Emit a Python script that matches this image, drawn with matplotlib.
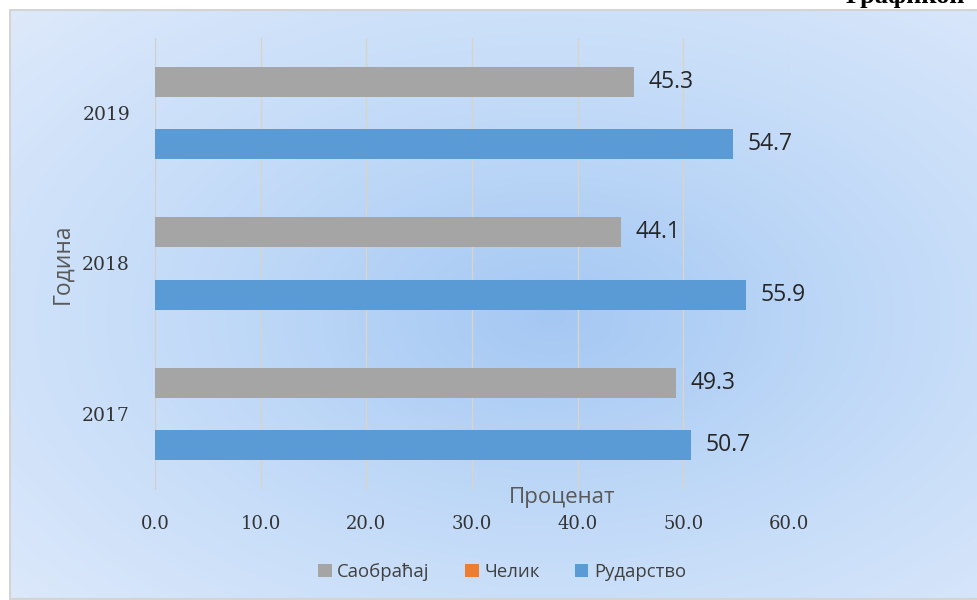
import matplotlib.pyplot as plt
import numpy as np
from matplotlib.patches import Rectangle
from matplotlib.colors import LinearSegmentedColormap

# data
years = ["2017", "2018", "2019"]
saobracaj = [49.3, 44.1, 45.3]
celik = [0.0, 0.0, 0.0]
rudarstvo = [50.7, 55.9, 54.7]
series_names = ["Саобраћај", "Челик", "Рударство"]
xticks = [0, 10, 20, 30, 40, 50, 60]

W, H = 978, 600
fig = plt.figure(figsize=(W / 100, H / 100), dpi=100)
fig.patch.set_facecolor("white")

# chart area background: radial gradient with grey border
bg = fig.add_axes([9 / W, 0, 1 - 9 / W, 1 - 9 / H])
bg.set_axis_off()
yy, xx = np.mgrid[0:1:300j, 0:1:500j]
r = np.sqrt(((xx - 0.56) / 0.75) ** 2 + ((yy - 0.52) / 0.75) ** 2)
r = np.clip(r, 0, 1)
cmap = LinearSegmentedColormap.from_list("bg", ["#a5c8f3", "#c3dbf8", "#dde9fb"])
bg.imshow(r, cmap=cmap, aspect="auto", extent=[0, 1, 0, 1], origin="upper")
bg.set_xlim(0, 1)
bg.set_ylim(0, 1)
bg.add_patch(Rectangle((0, 0), 1.2, 1, fill=False, edgecolor="#d4d4d4", lw=3,
                       transform=bg.transAxes, clip_on=True))

# title of the page, cut off at the top right as in the source
fig.text(846 / W, 1 - 3 / H, "Графикон", fontsize=19, fontweight="bold",
         family="Liberation Serif", ha="left", va="baseline", color="black")

ax = fig.add_axes([155 / W, 1 - 489 / H, (789 - 155) / W, (489 - 38) / H])
ax.patch.set_alpha(0)

y = np.arange(len(years))
off = 0.207
h = 0.2
colors = ["#a5a5a5", "#ed7d31", "#5b9bd5"]
b1 = ax.barh(y + off, saobracaj, height=h, color=colors[0], label=series_names[0], zorder=3)
b2 = ax.barh(y, celik, height=h, color=colors[1], label=series_names[1], zorder=3)
b3 = ax.barh(y - off, rudarstvo, height=h, color=colors[2], label=series_names[2], zorder=3)

for bars, vals in ((b1, saobracaj), (b3, rudarstvo)):
    for rect, v in zip(bars, vals):
        ax.text(v + 1.4, rect.get_y() + rect.get_height() / 2, f"{v:.1f}",
                va="center", ha="left", fontsize=16.5, family="Open Sans",
                color="#262626")

ax.set_xlim(0, 60)
ax.set_ylim(-0.5, 2.5)
ax.set_xticks(xticks)
ax.set_xticklabels([f"{t:.1f}" for t in xticks], family="DejaVu Serif",
                   fontsize=13, color="#333333")
ax.set_yticks(y)
ax.set_yticklabels(years, family="DejaVu Serif", fontsize=13.5, color="#333333")
ax.tick_params(axis="x", length=0, pad=19)
ax.tick_params(axis="y", length=0, pad=18)
ax.grid(axis="x", color="#d9d4c8", lw=1, zorder=0)
for s in ("top", "right", "bottom"):
    ax.spines[s].set_visible(False)
ax.spines["left"].set_color("#d0d0d0")

fig.text(562 / W, 1 - 498 / H, "Проценат", ha="center", va="center",
         fontsize=16, family="Open Sans", color="#595959")
fig.text(62 / W, 1 - 264 / H, "Година", ha="center", va="center", rotation=90,
         fontsize=16.5, family="Open Sans", color="#595959")

ax.legend(loc="center", bbox_to_anchor=(502 / W, 1 - 572 / H),
          bbox_transform=fig.transFigure, ncol=3, frameon=False,
          handlelength=0.75, handleheight=0.75, handletextpad=0.3,
          columnspacing=1.9, prop={"family": "Open Sans", "size": 13.3},
          labelcolor="#404040")

fig.savefig("out.png", dpi=100)
